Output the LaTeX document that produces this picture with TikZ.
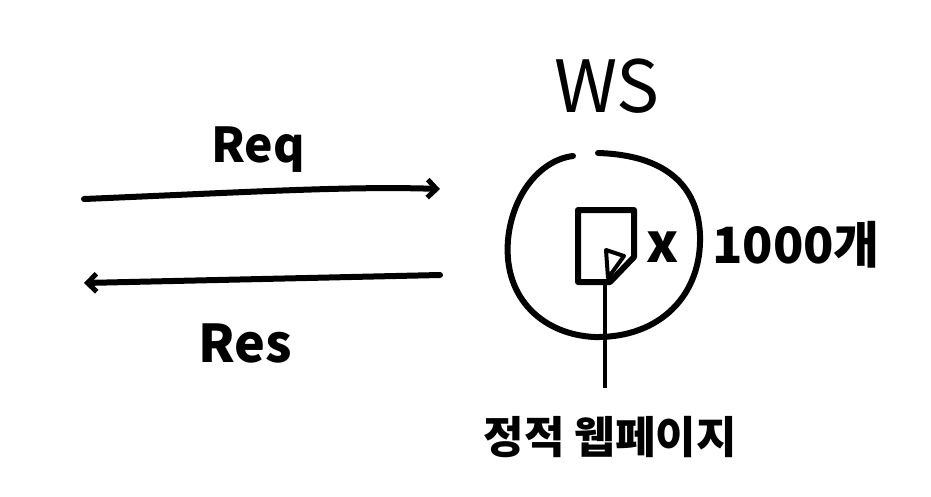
\documentclass[tikz,border=0pt]{standalone}
\usepackage{fontspec}
\setmainfont{Noto Sans CJK KR}
\usetikzlibrary{arrows.meta}
\begin{document}
\begin{tikzpicture}[x=1pt,y=-1pt,
  ink/.style={line width=6pt,line cap=round,line join=round,black},
  thin ink/.style={line width=4pt,line cap=round,black},
  lbl/.style={inner sep=0pt,font=\bfseries\fontsize{48}{52}\selectfont},
  arr/.style={ink,-{Straight Barb[length=9pt,width=18pt,line width=5pt]}}]
\useasboundingbox (0,0) rectangle (931,496);
% arrows
\coordinate (reqA) at (84,199);
\coordinate (reqB) at (440,189);
\coordinate (resA) at (440,275);
\coordinate (resB) at (84,283);
\draw[arr] (reqA) .. controls (250,192) and (350,186) .. (reqB);
\draw[arr] (resA) -- (resB);
\node[lbl] (req) at (258,150) {Req};
\node[lbl,font=\bfseries\fontsize{52}{56}\selectfont] (res) at (245,343) {Res};
% WS
\node[lbl,font=\fontsize{72}{76}\selectfont] (ws) at (607,86) {WS};
% circle with gap at top
\draw[ink] (573,156) .. controls (540,160) and (512,195) .. (508,240)
  .. controls (503,300) and (545,335) .. (595,337)
  .. controls (660,338) and (702,295) .. (700,235)
  .. controls (698,185) and (665,155) .. (598,153);
% document icon
\coordinate (d1) at (578,282);
\coordinate (d2) at (578,210);
\coordinate (d3) at (634,210);
\coordinate (d4) at (634,257);
\coordinate (d5) at (610,282);
\draw[ink] (d1) -- (d2) -- (d3) -- (d4) -- (d5) -- cycle;
\coordinate (f1) at (606,250);
\coordinate (f2) at (624,256);
\coordinate (f3) at (608,278);
\draw[thin ink,line join=round] (f1) -- (f2) -- (f3) -- cycle;
\coordinate (stem) at (605,388);
\draw[line width=4pt,black] (605,282) -- (stem);
% labels
\node[lbl,font=\bfseries\fontsize{54}{58}\selectfont] (x) at (663,247) {x};
\node[lbl,font=\bfseries\fontsize{50}{54}\selectfont] (cnt) at (796,245) {1000개};
\node[lbl,font=\bfseries\fontsize{44}{48}\selectfont] (swp) at (610,437) {정적 웹페이지};
\end{tikzpicture}
\end{document}
